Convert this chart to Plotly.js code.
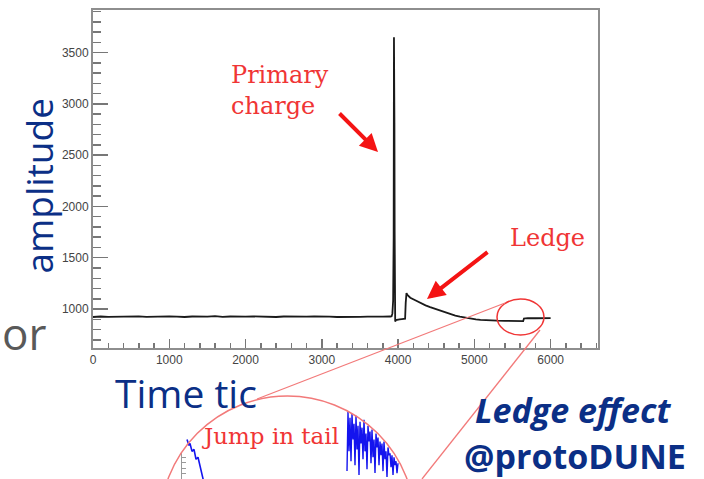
<!DOCTYPE html>
<html>
<head>
<meta charset="utf-8">
<script src="https://cdn.plot.ly/plotly-3.0.1.min.js"></script>
<style>html,body{margin:0;padding:0;background:#fff;}#chart{width:704px;height:479px;}</style>
</head>
<body>
<div id="chart"></div>
<script>
// Main waveform: time tic vs amplitude
const timeTic = [0,100,200,300,400,500,600,700,800,900,1000,1100,1200,1300,1400,1500,1600,1700,1800,1900,
  2000,2100,2200,2300,2400,2500,2600,2700,2800,2900,3000,3100,3200,3300,3400,3500,3600,3700,3800,3900,
  3915,3925,3935,3942,3946,3949,3952,3955,3958,3962,3970,3990,4020,4050,4080,4092,4100,4110,4125,4160,
  4225,4290,4360,4420,4490,4550,4620,4680,4750,4810,4880,4950,5020,5080,5150,5210,5300,5400,5500,5600,
  5640,5650,5700,5800,5900,6000];
const amplitude = [922,927,924,926,921,925,928,923,926,924,929,925,922,927,924,926,930,924,927,923,
  925,928,924,926,922,927,925,923,926,929,924,926,922,925,928,924,926,923,925,927,
  930,955,1080,1700,3650,2820,2810,1750,1020,878,892,898,900,902,900,905,1060,1155,1135,1110,
  1085,1058,1035,1018,1000,982,962,950,935,925,915,908,900,895,891,888,886,885,884,883,
  882,908,912,910,913,911];

// Magnified inset (blue trace)
const insetTailTic = [5505,5507,5508,5510,5512,5514,5516,5518,5520,5522];
const insetTailAdc = [890,887,888,884,885,880,881,876,872,868];
const insetJumpTic = [5665,5666,5667,5668,5669,5670,5671,5672,5673,5674,5675,5676,5677,5678,5679,5680,
  5681,5682,5683,5684,5685,5686,5687,5688,5689,5690,5691,5692,5693,5694,5695,5696,5697,5698,5699,5700,
  5701,5702,5703,5704,5705,5706,5707,5708,5709,5710,5711,5712,5713,5714,5715,5716];
const insetJumpAdc = [874,904,884,901,879,903,890,898,877,902,885,897,872,899,888,896,
  880,900,884,893,875,897,889,894,878,895,881,890,873,893,886,891,877,889,882,888,
  874,889,880,884,871,886,882,883,876,882,872,881,877,879,873,878];

// Tick labels
const xTickVals = [0,1000,2000,3000,4000,5000,6000];
const xTickText = ['0','1000','2000','3000','4000','5000','6000'];
const yTickVals = [1000,1500,2000,2500,3000,3500];
const yTickText = ['1000','1500','2000','2500','3000','3500'];

const W = 704, H = 479;
const px = x => x / W;
const py = y => 1 - y / H;

const navy = '#0b2f86';
const red = '#f03535';
const pink = '#f27a7a';

const traces = [
  {x: timeTic, y: amplitude, type: 'scatter', mode: 'lines', xaxis: 'x', yaxis: 'y',
   line: {color: '#1a1a1a', width: 1.8}, hoverinfo: 'skip'},
  {x: insetTailTic, y: insetTailAdc, type: 'scatter', mode: 'lines', xaxis: 'x2', yaxis: 'y2',
   line: {color: '#1414ee', width: 1.6}, hoverinfo: 'skip'},
  {x: insetJumpTic, y: insetJumpAdc, type: 'scatter', mode: 'lines', xaxis: 'x2', yaxis: 'y2',
   line: {color: '#1414ee', width: 1.4}, hoverinfo: 'skip'},
  {x: [], y: [], type: 'scatter', mode: 'lines', xaxis: 'x3', yaxis: 'y3', hoverinfo: 'skip'}
];

const tickFont = {family: 'Liberation Sans, Arial, sans-serif', size: 12, color: '#444'};

const layout = {
  width: W, height: H, autosize: false,
  margin: {l: 0, r: 0, t: 0, b: 0, pad: 0},
  paper_bgcolor: '#fff', plot_bgcolor: 'rgba(0,0,0,0)',
  showlegend: false, hovermode: false,
  font: {family: 'Liberation Sans, Arial, sans-serif'},
  xaxis: {
    domain: [px(93), px(598.3)], anchor: 'y', range: [0, 6625],
    tickmode: 'array', tickvals: xTickVals, ticktext: xTickText,
    ticks: 'inside', ticklen: 9, tickwidth: 1.5, tickcolor: '#777',
    minor: {dtick: 200, tick0: 0, ticks: 'inside', ticklen: 5, tickwidth: 1.5, tickcolor: '#777', showgrid: false},
    showline: true, mirror: true, linecolor: '#8e8e8e', linewidth: 2,
    showgrid: false, zeroline: false, tickfont: tickFont, fixedrange: true
  },
  yaxis: {
    domain: [py(348), py(9.5)], anchor: 'x', range: [620, 3920],
    tickmode: 'array', tickvals: yTickVals, ticktext: yTickText,
    ticks: 'inside', ticklen: 15, tickwidth: 1.5, tickcolor: '#777',
    minor: {dtick: 100, tick0: 0, ticks: 'inside', ticklen: 7.5, tickwidth: 1.5, tickcolor: '#777', showgrid: false},
    showline: true, mirror: true, linecolor: '#8e8e8e', linewidth: 2,
    showgrid: false, zeroline: false, tickfont: tickFont, fixedrange: true
  },
  xaxis2: {domain: [px(182), px(410)], anchor: 'y2', range: [5500, 5728], visible: false},
  yaxis2: {domain: [0, py(400)], anchor: 'x2', range: [870, 910], visible: false},
  xaxis3: {domain: [px(182), px(196)], anchor: 'y3', range: [0, 1], visible: false},
  yaxis3: {domain: [0, py(452)], anchor: 'x3', range: [0, 10], dtick: 2,
    showline: true, linecolor: '#999', linewidth: 1.2, ticks: 'inside', ticklen: 4, tickcolor: '#999',
    showticklabels: false, showgrid: false, zeroline: false},
  shapes: [
    {type: 'circle', xref: 'paper', yref: 'paper', x0: px(497), x1: px(544), y0: py(335), y1: py(299),
     line: {color: red, width: 1.5}},
    {type: 'line', xref: 'paper', yref: 'paper', x0: px(505), y0: py(303), x1: px(257), y1: py(399),
     line: {color: pink, width: 1.3}},
    {type: 'line', xref: 'paper', yref: 'paper', x0: px(540), y0: py(330), x1: px(422), y1: py(479),
     line: {color: pink, width: 1.3}},
    {type: 'circle', xref: 'paper', yref: 'paper', x0: px(160), x1: px(415), y0: py(651), y1: py(396),
     line: {color: pink, width: 1.5}}
  ],
  annotations: [
    {text: 'Primary<br>charge', xref: 'paper', yref: 'paper', x: px(229), y: py(90), xanchor: 'left', yanchor: 'middle',
     align: 'left', showarrow: false, font: {family: 'DejaVu Serif', size: 24, color: red}},
    {text: 'Ledge', xref: 'paper', yref: 'paper', x: px(508), y: py(238), xanchor: 'left', yanchor: 'middle',
     showarrow: false, font: {family: 'DejaVu Serif', size: 24, color: red}},
    {text: '', xref: 'paper', yref: 'paper', x: px(378), y: py(152), ax: -40, ay: -40, showarrow: true,
     arrowhead: 2, arrowsize: 0.9, arrowwidth: 4, arrowcolor: '#f41414', standoff: 0},
    {text: '', xref: 'paper', yref: 'paper', x: px(427), y: py(299), ax: 62, ay: -48, showarrow: true,
     arrowhead: 2, arrowsize: 0.9, arrowwidth: 4, arrowcolor: '#f41414', standoff: 0},
    {text: 'Jump in tail', xref: 'paper', yref: 'paper', x: px(200), y: py(436), xanchor: 'left', yanchor: 'middle',
     showarrow: false, font: {family: 'DejaVu Serif', size: 23, color: red}},
    {text: 'amplitude', xref: 'paper', yref: 'paper', x: px(38), y: py(186.5), xanchor: 'center', yanchor: 'middle',
     textangle: -90, showarrow: false, font: {family: 'Open Sans', size: 37, color: navy}},
    {text: 'or', xref: 'paper', yref: 'paper', x: px(0), y: py(333), xanchor: 'left', yanchor: 'middle',
     showarrow: false, font: {family: 'Open Sans', size: 44, color: '#595959'}},
    {text: 'Time tic', xref: 'paper', yref: 'paper', x: px(113), y: py(392), xanchor: 'left', yanchor: 'middle',
     showarrow: false, font: {family: 'Open Sans', size: 39, color: navy}},
    {text: 'Ledge effect', xref: 'paper', yref: 'paper', x: px(573), y: py(410), xanchor: 'center', yanchor: 'middle',
     showarrow: false, font: {family: 'Open Sans', size: 34, color: navy, weight: 'bold', style: 'italic'}},
    {text: '@protoDUNE', xref: 'paper', yref: 'paper', x: px(575), y: py(456), xanchor: 'center', yanchor: 'middle',
     showarrow: false, font: {family: 'Open Sans', size: 34, color: navy, weight: 'bold'}}
  ]
};

Plotly.newPlot('chart', traces, layout, {staticPlot: true, displayModeBar: false});
</script>
</body>
</html>
